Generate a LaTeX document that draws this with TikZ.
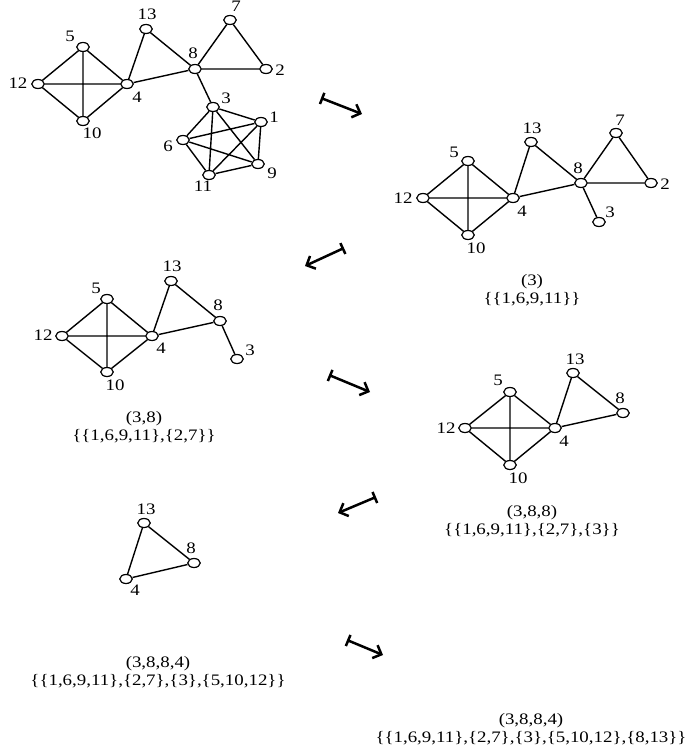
\documentclass[tikz,border=0pt]{standalone}
\usepackage{fontspec}
\setmainfont{Liberation Serif}[FakeStretch=1.18]
\usetikzlibrary{arrows.meta,shapes.geometric}
\newcommand{\lbfont}{\fontsize{16}{18}\selectfont}
\tikzset{
 v/.style={draw, ellipse, fill=white, minimum width=12.5pt, minimum height=9pt, inner sep=0pt, line width=1.2pt},
 lb/.style={inner sep=0pt, font=\lbfont},
 ed/.style={line width=1.4pt},
 ar/.style={line width=2.5pt, {Bar[width=12pt]}-{Straight Barb[length=7pt,width=14pt]}},
 captxt/.style={align=center, inner sep=0pt, font=\lbfont}
}
\begin{document}
\begin{tikzpicture}[x=1pt,y=-1pt]
\useasboundingbox (0,0) rectangle (689,754);
% ---------- graph 1 ----------
\node[v] (a5) at (83,47) {};
\node[v] (a12) at (38,84) {};
\node[v] (a4) at (127,84) {};
\node[v] (a10) at (83,121) {};
\node[v] (a13) at (146,29) {};
\node[v] (a8) at (195,69) {};
\node[v] (a7) at (230,20) {};
\node[v] (a2) at (266,69) {};
\node[v] (a3) at (213,107) {};
\node[v] (a1) at (261,122) {};
\node[v] (a6) at (183,140) {};
\node[v] (a9) at (258,164) {};
\node[v] (a11) at (209,175) {};
\draw[ed] (a5)--(a12) (a5)--(a4) (a5)--(a10) (a12)--(a4) (a12)--(a10) (a4)--(a10)
 (a4)--(a13) (a13)--(a8) (a4)--(a8) (a8)--(a7) (a7)--(a2) (a8)--(a2) (a8)--(a3)
 (a3)--(a1) (a3)--(a9) (a3)--(a11) (a3)--(a6) (a1)--(a6) (a1)--(a9) (a1)--(a11)
 (a6)--(a9) (a6)--(a11) (a11)--(a9);
\node[lb] (la5) at (70,36) {5};
\node[lb] (la12) at (18,83) {12};
\node[lb] (la4) at (137,97) {4};
\node[lb] (la10) at (92,133) {10};
\node[lb] (la13) at (147,14) {13};
\node[lb] (la8) at (193,53) {8};
\node[lb] (la7) at (236,6) {7};
\node[lb] (la2) at (280,70) {2};
\node[lb] (la3) at (226,98) {3};
\node[lb] (la1) at (274,117) {1};
\node[lb] (la6) at (168,146) {6};
\node[lb] (la9) at (272,173) {9};
\node[lb] (la11) at (203,186) {11};
% ---------- graph 2 ----------
\node[v] (b5) at (468,161) {};
\node[v] (b12) at (423,198) {};
\node[v] (b4) at (513,198) {};
\node[v] (b10) at (468,235) {};
\node[v] (b13) at (531,142) {};
\node[v] (b8) at (581,183) {};
\node[v] (b7) at (616,133) {};
\node[v] (b2) at (651,183) {};
\node[v] (b3) at (599,222) {};
\draw[ed] (b5)--(b12) (b5)--(b4) (b5)--(b10) (b12)--(b4) (b12)--(b10) (b4)--(b10)
 (b4)--(b13) (b13)--(b8) (b4)--(b8) (b8)--(b7) (b7)--(b2) (b8)--(b2) (b8)--(b3);
\node[lb] (lb5) at (454,152) {5};
\node[lb] (lb12) at (403,198) {12};
\node[lb] (lb4) at (522,211) {4};
\node[lb] (lb10) at (476,248) {10};
\node[lb] (lb13) at (532,128) {13};
\node[lb] (lb7) at (620,120) {7};
\node[lb] (lb8) at (578,168) {8};
\node[lb] (lb2) at (665,184) {2};
\node[lb] (lb3) at (610,212) {3};
\node[captxt] (cb) at (532,290) {(3)\\\{\{1,6,9,11\}\}};
% ---------- graph 3 ----------
\node[v] (c5) at (107,299) {};
\node[v] (c12) at (62,336) {};
\node[v] (c4) at (152,336) {};
\node[v] (c10) at (107,372) {};
\node[v] (c13) at (171,281) {};
\node[v] (c8) at (220,321) {};
\node[v] (c3) at (237,359) {};
\draw[ed] (c5)--(c12) (c5)--(c4) (c5)--(c10) (c12)--(c4) (c12)--(c10) (c4)--(c10)
 (c4)--(c13) (c13)--(c8) (c4)--(c8) (c8)--(c3);
\node[lb] (lc5) at (96,288) {5};
\node[lb] (lc12) at (43,335) {12};
\node[lb] (lc4) at (161,348) {4};
\node[lb] (lc10) at (115,385) {10};
\node[lb] (lc13) at (172,266) {13};
\node[lb] (lc8) at (218,305) {8};
\node[lb] (lc3) at (250,350) {3};
\node[captxt] (cc) at (144,427) {(3,8)\\\{\{1,6,9,11\},\{2,7\}\}};
% ---------- graph 4 ----------
\node[v] (d5) at (510,392) {};
\node[v] (d12) at (465,428) {};
\node[v] (d4) at (555,428) {};
\node[v] (d10) at (510,465) {};
\node[v] (d13) at (573,373) {};
\node[v] (d8) at (623,413) {};
\draw[ed] (d5)--(d12) (d5)--(d4) (d5)--(d10) (d12)--(d4) (d12)--(d10) (d4)--(d10)
 (d4)--(d13) (d13)--(d8) (d4)--(d8);
\node[lb] (ld5) at (498,380) {5};
\node[lb] (ld12) at (446,428) {12};
\node[lb] (ld4) at (564,441) {4};
\node[lb] (ld10) at (518,478) {10};
\node[lb] (ld13) at (575,359) {13};
\node[lb] (ld8) at (620,398) {8};
\node[captxt] (cd) at (532,521) {(3,8,8)\\\{\{1,6,9,11\},\{2,7\},\{3\}\}};
% ---------- graph 5 ----------
\node[v] (e13) at (144,523) {};
\node[v] (e8) at (194,563) {};
\node[v] (e4) at (126,579) {};
\draw[ed] (e4)--(e13) (e13)--(e8) (e4)--(e8);
\node[lb] (le13) at (146,509) {13};
\node[lb] (le8) at (191,548) {8};
\node[lb] (le4) at (135,590) {4};
\node[captxt] (ce) at (158,672) {(3,8,8,4)\\\{\{1,6,9,11\},\{2,7\},\{3\},\{5,10,12\}\}};
% ---------- final ----------
\node[captxt] (cf) at (531,729) {(3,8,8,4)\\\{\{1,6,9,11\},\{2,7\},\{3\},\{5,10,12\},\{8,13\}\}};
% ---------- arrows ----------
\coordinate (r1s) at (321,98);  \coordinate (r1e) at (362,114);
\coordinate (r2s) at (344,248); \coordinate (r2e) at (305,266);
\coordinate (r3s) at (329,375); \coordinate (r3e) at (370,392);
\coordinate (r4s) at (376,497); \coordinate (r4e) at (338,513);
\coordinate (r5s) at (347,640); \coordinate (r5e) at (383,655);
\draw[ar] (r1s) -- (r1e);
\draw[ar] (r2s) -- (r2e);
\draw[ar] (r3s) -- (r3e);
\draw[ar] (r4s) -- (r4e);
\draw[ar] (r5s) -- (r5e);
\end{tikzpicture}
\end{document}
